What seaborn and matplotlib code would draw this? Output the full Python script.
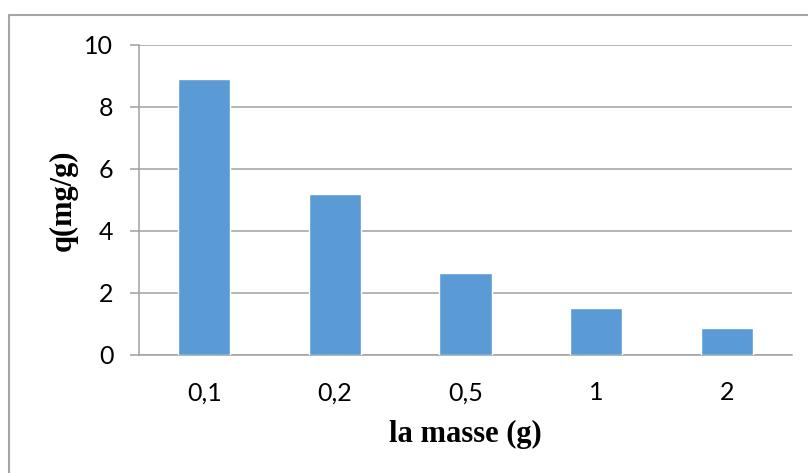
import matplotlib
matplotlib.use("Agg")
import matplotlib.pyplot as plt
import seaborn as sns
import pandas as pd
from matplotlib.lines import Line2D

categories = ["0,1", "0,2", "0,5", "1", "2"]
q_values = [8.9, 5.2, 2.66, 1.52, 0.86]
y_ticks = [0, 2, 4, 6, 8, 10]

df = pd.DataFrame({"masse": categories, "q": q_values})

sns.set_theme(style="white")
plt.rcParams['font.family'] = ['Lato', 'DejaVu Sans']

fig = plt.figure(figsize=(8.08, 4.73), dpi=100)
ax = fig.add_axes([139/808, 1-355/473, (792-139)/808, (355-45)/473])

sns.barplot(data=df, x="masse", y="q", color="#5B9BD5", saturation=1,
            width=0.4, ax=ax, zorder=3)

grid_c = "#a0a0a0"
ax.set_ylim(0, 10)
ax.set_xlim(-0.5, len(categories) - 0.5)
ax.set_yticks(y_ticks)
ax.set_yticklabels([str(t) for t in y_ticks])
ax.yaxis.grid(True, color=grid_c, linewidth=1.1, zorder=0)
ax.xaxis.grid(False)
ax.set_axisbelow(True)

for s in ["top", "right"]:
    ax.spines[s].set_visible(False)
ax.spines["left"].set_color(grid_c)
ax.spines["bottom"].set_color(grid_c)
ax.spines["left"].set_linewidth(1.1)
ax.spines["bottom"].set_linewidth(1.1)

ax.tick_params(axis="y", which="both", left=True, length=6.5, width=1.1,
               color=grid_c, pad=12, labelsize=18, labelcolor="black")
ax.tick_params(axis="x", which="both", bottom=False, length=0, pad=19,
               labelsize=18, labelcolor="black")

ax.set_xlabel("la masse (g)", family=["Liberation Serif", "DejaVu Serif"],
              fontweight="bold", fontsize=22, labelpad=11, color="black")
ax.set_ylabel("q(mg/g)", family=["Liberation Serif", "DejaVu Serif"],
              fontweight="bold", fontsize=22, labelpad=5, color="black")

# outer chart frame (top and left edges visible)
fig.add_artist(Line2D([9/808, 1.0], [1-15/473, 1-15/473],
                      transform=fig.transFigure, color="#a6a6a6", linewidth=1.5))
fig.add_artist(Line2D([9/808, 9/808], [0.0, 1-15/473],
                      transform=fig.transFigure, color="#a6a6a6", linewidth=1.5))

fig.savefig("out.png", dpi=100)
